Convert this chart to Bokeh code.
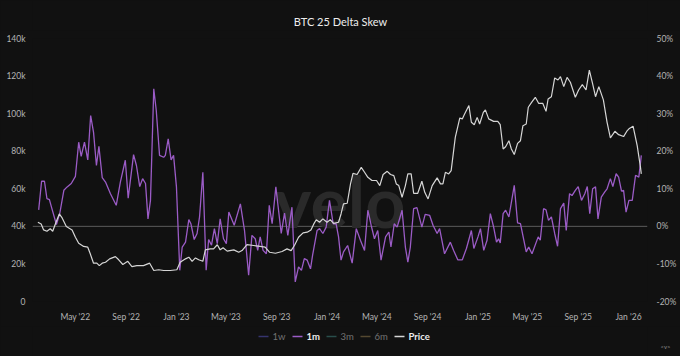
import pandas as pd
from bokeh.plotting import figure
from bokeh.layouts import column
from bokeh.models import (Range1d, LinearAxis, Span, FixedTicker, MonthsTicker,
                          DatetimeTickFormatter, Label)
from bokeh.core.properties import value
from bokeh.embed import file_html
from bokeh.resources import INLINE

# ---------------- data ----------------
skew_dates = [
    "2022-02-01", "2022-02-08", "2022-02-15", "2022-02-21", "2022-02-27", "2022-03-04", "2022-03-16", "2022-03-24",
    "2022-04-03", "2022-04-11", "2022-04-21", "2022-05-01", "2022-05-09", "2022-05-15", "2022-05-23", "2022-05-31",
    "2022-06-07", "2022-06-14", "2022-06-21", "2022-06-27", "2022-07-05", "2022-07-13", "2022-07-25", "2022-08-08",
    "2022-08-18", "2022-08-30", "2022-09-06", "2022-09-19", "2022-09-26", "2022-10-04", "2022-10-11", "2022-10-18",
    "2022-10-24", "2022-10-30", "2022-11-07", "2022-11-13", "2022-11-21", "2022-12-01", "2022-12-05", "2022-12-12",
    "2022-12-19", "2022-12-25", "2023-01-01", "2023-01-09", "2023-01-15", "2023-01-23", "2023-01-31", "2023-02-05",
    "2023-02-13", "2023-02-20", "2023-02-26", "2023-03-06", "2023-03-14", "2023-03-20", "2023-03-27", "2023-04-03",
    "2023-04-10", "2023-04-17", "2023-04-25", "2023-05-02", "2023-05-08", "2023-05-21", "2023-06-05", "2023-06-15",
    "2023-06-25", "2023-07-03", "2023-07-11", "2023-07-17", "2023-07-23", "2023-07-30", "2023-08-07", "2023-08-14",
    "2023-08-21", "2023-08-30", "2023-09-12", "2023-09-20", "2023-09-28", "2023-10-08", "2023-10-16", "2023-10-24",
    "2023-10-31", "2023-11-07", "2023-11-14", "2023-11-22", "2023-11-27", "2023-12-08", "2023-12-14", "2023-12-22",
    "2023-12-30", "2024-01-07", "2024-01-16", "2024-01-23", "2024-01-29", "2024-02-04", "2024-02-10", "2024-02-20",
    "2024-03-02", "2024-03-12", "2024-03-22", "2024-04-01", "2024-04-09", "2024-04-17", "2024-04-25", "2024-05-03",
    "2024-05-11", "2024-05-22", "2024-05-30", "2024-06-04", "2024-06-12", "2024-06-19", "2024-07-01", "2024-07-09",
    "2024-07-15", "2024-07-21", "2024-07-29", "2024-08-06", "2024-08-18", "2024-08-26", "2024-09-06", "2024-09-14",
    "2024-09-24", "2024-09-30", "2024-10-12", "2024-10-26", "2024-11-03", "2024-11-13", "2024-11-24", "2024-12-04",
    "2024-12-16", "2024-12-22", "2025-01-01", "2025-01-07", "2025-01-15", "2025-01-23", "2025-01-31", "2025-02-08",
    "2025-02-15", "2025-02-20", "2025-02-24", "2025-03-03", "2025-03-09", "2025-03-17", "2025-03-30", "2025-04-07",
    "2025-04-14", "2025-04-28", "2025-05-04", "2025-05-12", "2025-05-27", "2025-06-01", "2025-06-09", "2025-06-15",
    "2025-06-21", "2025-06-28", "2025-07-06", "2025-07-13", "2025-07-20", "2025-07-28", "2025-08-03", "2025-08-11",
    "2025-08-17", "2025-08-25", "2025-09-01", "2025-09-09", "2025-09-17", "2025-09-23", "2025-09-29", "2025-10-06",
    "2025-10-13", "2025-10-19", "2025-10-27", "2025-11-04", "2025-11-10", "2025-11-18", "2025-11-24", "2025-12-02",
    "2025-12-08", "2025-12-15", "2025-12-20", "2025-12-26", "2026-01-02", "2026-01-10", "2026-01-18", "2026-01-26",
    "2026-02-01",
]
skew_1m = [
    4.4, 12, 12, 7.4, 7.1, 5.1, 0.5, 3.4, 9.6, 10.5,
    11.4, 13.3, 22.4, 18.6, 22.4, 17.7, 29.5, 25, 16.2, 21.3,
    13, 11.8, 8.7, 5.6, 11.8, 17.6, 7.5, 19.1, 16.2, 10.6,
    12.7, 11.4, 2, 6.9, 36.6, 30.9, 18.9, 18.4, 18.9, 23.3,
    17.7, 18.9, 10.5, -11.7, -5.5, -4.2, 1.8, 0.7, -3.5, -1.9,
    2.5, 14.4, -11.7, -3.5, -5, -0.6, -4.6, 2, -3.3, -4.6,
    3.8, 0.3, 6, -1.1, -13, -2.4, -3.3, -6.4, -2.8, -6.4,
    -7.3, 5.6, 0.7, 10.5, -1.9, 3.5, -2.4, 5.1, -14.8, -10.8,
    -11.7, -8.6, -9, -11.3, -7.7, -1.1, -0.6, -1.9, -0.2, 6.9,
    0.7, 0.7, -2.8, -9, -6.8, -5.1, -9.8, -0.6, -3.7, -6.4,
    4.3, 0.3, -3.3, -1.1, -9, -2.8, -1.5, -5.5, 0.7, -0.2,
    4.3, -5.5, -9.5, -5.5, 4.7, 5, -0.2, 3.2, 2.9, 0.3,
    -1.9, -0.6, -7.3, -4.2, -6.4, -8.9, -8.9, -5.9, -1.1, -5.9,
    -2.8, -0.6, -6.4, -3.7, 3.4, -0.2, -4.2, -3.3, -4.4, 3.4,
    4.3, 2.5, 10.9, 0.9, 0.7, -6.8, -5.5, -7.3, -2.8, -3.7,
    4.7, 4.4, 1.6, 2.5, -1.9, -5.3, 4.7, 6.2, -1.1, 8.7,
    8.2, 9.6, 10.6, 6.9, 8.7, 10.6, 3.4, 10, 10.5, 2,
    7.8, 9.1, 10, 12.7, 10.6, 14, 13.1, 9.4, 9.6, 3.8,
    6.9, 6.9, 13.6, 13.1, 18.9,
]

price_dates = [
    "2022-01-30", "2022-02-07", "2022-02-13", "2022-02-21", "2022-03-01", "2022-03-07", "2022-03-15", "2022-03-23",
    "2022-03-29", "2022-04-09", "2022-04-23", "2022-05-01", "2022-05-09", "2022-05-21", "2022-05-31", "2022-06-06",
    "2022-06-14", "2022-06-22", "2022-06-28", "2022-07-05", "2022-07-13", "2022-07-23", "2022-08-06", "2022-08-14",
    "2022-08-24", "2022-09-05", "2022-09-15", "2022-09-27", "2022-10-13", "2022-10-28", "2022-11-07", "2022-11-19",
    "2022-12-01", "2022-12-17", "2023-01-02", "2023-01-10", "2023-01-23", "2023-01-31", "2023-02-08", "2023-02-16",
    "2023-02-24", "2023-03-06", "2023-03-12", "2023-03-24", "2023-04-01", "2023-04-10", "2023-04-17", "2023-04-24",
    "2023-05-04", "2023-05-20", "2023-06-01", "2023-06-09", "2023-06-21", "2023-07-07", "2023-07-23", "2023-08-04",
    "2023-08-15", "2023-08-29", "2023-09-14", "2023-09-26", "2023-10-06", "2023-10-14", "2023-10-24", "2023-11-04",
    "2023-11-14", "2023-11-23", "2023-11-30", "2023-12-06", "2023-12-14", "2023-12-22", "2024-01-01", "2024-01-09",
    "2024-01-17", "2024-01-29", "2024-02-04", "2024-02-10", "2024-02-19", "2024-02-27", "2024-03-04", "2024-03-14",
    "2024-03-24", "2024-04-01", "2024-04-09", "2024-04-19", "2024-04-30", "2024-05-08", "2024-05-16", "2024-05-26",
    "2024-06-03", "2024-06-11", "2024-06-17", "2024-06-23", "2024-07-01", "2024-07-09", "2024-07-15", "2024-07-23",
    "2024-07-29", "2024-08-08", "2024-08-18", "2024-08-25", "2024-09-02", "2024-09-12", "2024-09-24", "2024-10-02",
    "2024-10-08", "2024-10-14", "2024-10-22", "2024-10-28", "2024-11-07", "2024-11-18", "2024-11-24", "2024-11-29",
    "2024-12-10", "2024-12-16", "2024-12-23", "2024-12-30", "2025-01-05", "2025-01-14", "2025-01-19", "2025-01-27",
    "2025-02-08", "2025-02-18", "2025-02-24", "2025-03-03", "2025-03-09", "2025-03-17", "2025-03-23", "2025-03-30",
    "2025-04-07", "2025-04-14", "2025-04-20", "2025-04-28", "2025-05-03", "2025-05-11", "2025-05-20", "2025-05-28",
    "2025-06-07", "2025-06-15", "2025-06-20", "2025-06-28", "2025-07-06", "2025-07-14", "2025-07-20", "2025-07-28",
    "2025-08-05", "2025-08-13", "2025-08-25", "2025-09-02", "2025-09-11", "2025-09-20", "2025-09-28", "2025-10-06",
    "2025-10-13", "2025-10-21", "2025-11-01", "2025-11-10", "2025-11-18", "2025-11-29", "2025-12-08", "2025-12-20",
    "2025-12-29", "2026-01-02", "2026-01-12", "2026-01-22", "2026-01-30", "2026-02-01",
]
price_k = [
    42.2, 41.3, 38.1, 37.4, 38.7, 37.4, 42.2, 46.6, 44.8, 39.9,
    38.1, 34.2, 31, 29.3, 28.9, 25.4, 20.4, 20.4, 19.1, 20.4,
    20.9, 22.7, 23.9, 22.2, 19.7, 21.4, 18.6, 19.1, 19.1, 20.4,
    16.5, 16.9, 16.5, 16.5, 16.9, 20.9, 22.7, 23.6, 21.4, 23.2,
    22.2, 21.4, 27.5, 28, 28, 30.2, 27.5, 28.6, 26.8, 27.5,
    26.2, 27.1, 30.3, 29.8, 29.3, 28.9, 26.2, 25.7, 26.6, 28,
    27.1, 29.8, 34.2, 36.5, 36.9, 38.1, 41.3, 43.5, 42.2, 44,
    42.2, 43.5, 41.6, 42.2, 46.6, 52, 52.3, 62.6, 68.2, 67.6,
    71.4, 68.8, 66.1, 64.4, 64.4, 61.7, 67.6, 69.3, 67.6, 67,
    62.6, 61.7, 55.5, 61.7, 67.9, 67.9, 57.6, 57.6, 64, 58.1,
    54.6, 61.7, 65.8, 62.6, 62.6, 68.8, 67.9, 69.7, 87.4, 97.7,
    97.2, 99.5, 104.3, 95.4, 94.1, 98, 94.5, 100.7, 102, 97.2,
    95.9, 95.9, 94.1, 81.2, 82.4, 85.6, 81.2, 78.2, 84.2, 85.6,
    93.6, 94.5, 103.4, 106, 108.7, 105.5, 105.5, 101.2, 107.8, 109,
    119, 117.9, 119.7, 114.4, 119.3, 116.7, 108.7, 112.6, 115.4, 112.6,
    123.2, 115.8, 109, 114.4, 107.3, 95.4, 87.1, 90.6, 88.8, 87.8,
    91, 91.9, 93.3, 83, 71.4, 67.9,
]

price_ticks = [0, 20000, 40000, 60000, 80000, 100000, 120000, 140000]
price_tick_labels = ["0", "20k", "40k", "60k", "80k", "100k", "120k", "140k"]
skew_ticks = [-20, -10, 0, 10, 20, 30, 40, 50]
skew_tick_labels = ["-20%", "-10%", "0%", "10%", "20%", "30%", "40%", "50%"]
legend_labels = ["1w", "1m", "3m", "6m", "Price"]
legend_active = [False, True, False, False, True]
title_text = "BTC 25 Delta Skew"

# ---------------- style ----------------
BG = "#111111"
FONT = "Lato"
TICK_COLOR = "#b4b4b4"
C_1M = "#9b5cc6"
C_PRICE = "#d6d6d6"
legend_glyph_colors = ["#36346e", C_1M, "#294e4b", "#544830", C_PRICE]
W = 680
BL, BR = 32, 33          # left / right borders shared by all strips
BG_STYLE = {"background-color": BG}


def strip(height):
    f = figure(width=W, height=height, x_range=Range1d(BL, W - BR), y_range=Range1d(0, height),
               output_backend="svg", toolbar_location=None,
               x_axis_location=None, y_axis_location=None,
               background_fill_color=BG, border_fill_color=BG, outline_line_color=None,
               min_border_left=BL, min_border_right=BR, min_border_top=0, min_border_bottom=0,
               styles=BG_STYLE)
    f.grid.visible = False
    return f


# ---- title strip ----
tfig = strip(30)
tfig.add_layout(Label(x=W / 2, y=9, text=title_text, text_font=FONT, text_font_size="11px",
                      text_color="#ededed", text_align="center", text_baseline="middle"))

# ---- main chart ----
x_start = pd.Timestamp("2022-01-17")
x_end = pd.Timestamp("2026-02-16")

p = figure(width=W, height=296, x_axis_type="datetime",
           x_range=Range1d(x_start, x_end), y_range=Range1d(0, 140000),
           output_backend="svg", toolbar_location=None,
           background_fill_color=BG, border_fill_color=BG,
           outline_line_color=None,
           min_border_left=BL, min_border_right=BR,
           min_border_top=8, min_border_bottom=25, styles=BG_STYLE)
p.grid.visible = False
p.extra_y_ranges = {"skew": Range1d(-20, 50)}
right_axis = LinearAxis(y_range_name="skew")
p.add_layout(right_axis, "right")


def style_axis(ax, size="8.5px"):
    ax.axis_line_color = None
    ax.major_tick_line_color = None
    ax.minor_tick_line_color = None
    ax.major_tick_out = 0
    ax.major_tick_in = 0
    ax.major_label_text_color = TICK_COLOR
    ax.major_label_text_font = FONT
    ax.major_label_text_font_size = size


left_axis = p.yaxis[0]
style_axis(left_axis)
left_axis.ticker = FixedTicker(ticks=price_ticks)
left_axis.major_label_overrides = {t: l for t, l in zip(price_ticks, price_tick_labels)}
left_axis.major_label_standoff = 7

style_axis(right_axis)
right_axis.ticker = FixedTicker(ticks=skew_ticks)
right_axis.major_label_overrides = {t: l for t, l in zip(skew_ticks, skew_tick_labels)}
right_axis.major_label_standoff = 9

xa = p.xaxis[0]
style_axis(xa)
xa.ticker = MonthsTicker(months=[0, 4, 8])
xa.formatter = DatetimeTickFormatter(months="%b '%y", years="%b '%y", days="%b '%y")
xa.major_label_standoff = 10

# watermark
x_mid = x_start + (x_end - x_start) / 2
p.text(x=[x_mid], y=[53700], text=["velo"], text_font=value(FONT),
       text_font_style="bold", text_font_size="70px", text_color="#2a2a2a",
       text_align="center", text_baseline="alphabetic")

p.add_layout(Span(location=0, dimension="width", y_range_name="skew",
                  line_color="#5c5c5c", line_width=1, level="underlay"))

sd = pd.to_datetime(skew_dates)
pdts = pd.to_datetime(price_dates)
price_vals = [v * 1000 for v in price_k]

p.line(x=sd, y=skew_1m, line_color=C_1M, line_width=1.3, y_range_name="skew")
p.line(x=pdts, y=price_vals, line_color=C_PRICE, line_width=1.2)

# ---- legend strip (pixel-space layout) ----
lfig = strip(30)
LEG_X0, LEG_STEP, LEG_Y, SW = 258, 34, 20, 10
gx0 = [LEG_X0 + i * LEG_STEP for i in range(len(legend_labels))]
lfig.segment(x0=gx0, y0=[LEG_Y] * len(gx0), x1=[x + SW for x in gx0], y1=[LEG_Y] * len(gx0),
             line_color=legend_glyph_colors, line_width=1.5)
lfig.text(x=[x + SW + 4 for x in gx0], y=[LEG_Y] * len(gx0), text=legend_labels,
          text_font=value(FONT), text_font_size="9.5px",
          text_font_style=["bold" if a else "normal" for a in legend_active],
          text_color=["#ececec" if a else "#727272" for a in legend_active],
          text_align="left", text_baseline="middle")

# small "<v>" mark, bottom-right, placed as a right-axis label of the legend strip
mark_axis = LinearAxis(ticker=FixedTicker(ticks=[10]), major_label_overrides={10: "<v>"})
style_axis(mark_axis, size="6px")
mark_axis.major_label_text_color = "#8a8a8a"
mark_axis.major_label_standoff = 13
lfig.add_layout(mark_axis, "right")

layout = column(tfig, p, lfig, spacing=0, styles=BG_STYLE)
open("out.html", "w").write(file_html(layout, INLINE))
